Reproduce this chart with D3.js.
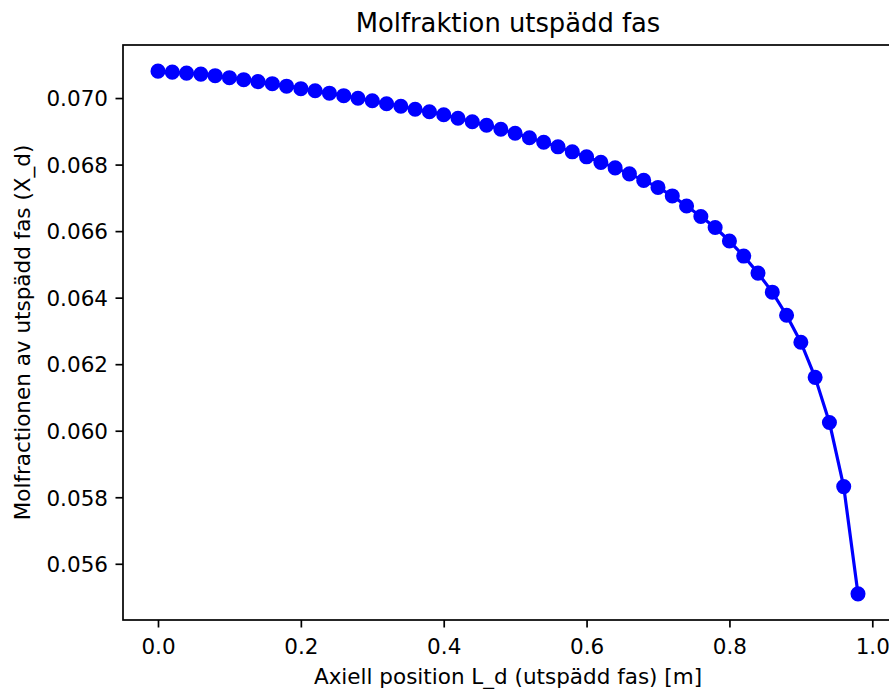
<!DOCTYPE html>
<html>
<head>
<meta charset="utf-8">
<script src="https://cdn.jsdelivr.net/npm/d3@7"></script>
<style>
    body { margin: 0; background: #fff; }
    svg { display: block; font-family: "DejaVu Sans", sans-serif; }
</style>
</head>
<body>
<div id="chart"></div>
<script>
// Axial position along the column (m)
const positions = [
    0.00, 0.02, 0.04, 0.06, 0.08, 0.10, 0.12, 0.14, 0.16, 0.18,
    0.20, 0.22, 0.24, 0.26, 0.28, 0.30, 0.32, 0.34, 0.36, 0.38,
    0.40, 0.42, 0.44, 0.46, 0.48, 0.50, 0.52, 0.54, 0.56, 0.58,
    0.60, 0.62, 0.64, 0.66, 0.68, 0.70, 0.72, 0.74, 0.76, 0.78,
    0.80, 0.82, 0.84, 0.86, 0.88, 0.90, 0.92, 0.94, 0.96, 0.98
];

// Mole fraction in the dilute phase
const moleFraction = [
    0.070809, 0.070779, 0.070749, 0.070719, 0.070673, 0.070613, 0.070553, 0.070493, 0.070432, 0.070357,
    0.070282, 0.070221, 0.070146, 0.070071, 0.069995, 0.069920, 0.069830, 0.069754, 0.069664, 0.069589,
    0.069498, 0.069393, 0.069287, 0.069182, 0.069061, 0.068941, 0.068805, 0.068670, 0.068534, 0.068383,
    0.068233, 0.068067, 0.067901, 0.067721, 0.067525, 0.067314, 0.067058, 0.066756, 0.066440, 0.066109,
    0.065702, 0.065250, 0.064738, 0.064165, 0.063472, 0.062659, 0.061604, 0.060248, 0.058320, 0.055096
];

const xTicks = [0.0, 0.2, 0.4, 0.6, 0.8, 1.0];
const yTicks = [0.056, 0.058, 0.060, 0.062, 0.064, 0.066, 0.068, 0.070];

const title = "Molfraktion utspädd fas";
const xLabel = "Axiell position L_d (utspädd fas) [m]";
const yLabel = "Molfractionen av utspädd fas (X_d)";

let width = 889,
    height = 689;

// axes box (right side runs off the picture like in the original)
let margin = {top: 45, left: 123},
    innerWidth = 770,
    innerHeight = 575;

let data = positions.map((x, i) => ({x: x, y: moleFraction[i]}));

// matplotlib style 5% padding of the data range
function padded(ext) {
    let r = ext[1] - ext[0];
    return [ext[0] - 0.05 * r, ext[1] + 0.05 * r];
}

let xScale = d3.scaleLinear()
    .domain(padded(d3.extent(positions)))
    .range([margin.left, margin.left + innerWidth]);

let yScale = d3.scaleLinear()
    .domain(padded(d3.extent(moleFraction)))
    .range([margin.top + innerHeight, margin.top]);

let svg = d3.select("#chart").append("svg")
    .attr("width", width)
    .attr("height", height);

svg.append("rect")
    .attr("width", width)
    .attr("height", height)
    .attr("fill", "#fff");

// line + markers
let line = d3.line()
    .x(d => xScale(d.x))
    .y(d => yScale(d.y));

svg.append("path")
    .datum(data)
    .attr("d", line)
    .attr("fill", "none")
    .attr("stroke", "#0000ff")
    .attr("stroke-width", 3.2)
    .attr("stroke-linejoin", "round");

svg.append("g")
    .selectAll("circle")
    .data(data)
    .enter().append("circle")
    .attr("cx", d => xScale(d.x))
    .attr("cy", d => yScale(d.y))
    .attr("r", 6.45)
    .attr("fill", "#0000ff")
    .attr("stroke", "#0000ff")
    .attr("stroke-width", 2.15);

// frame
svg.append("rect")
    .attr("x", margin.left)
    .attr("y", margin.top)
    .attr("width", innerWidth)
    .attr("height", innerHeight)
    .attr("fill", "none")
    .attr("stroke", "#000")
    .attr("stroke-width", 1.7);

// axes
let xAxis = d3.axisBottom(xScale)
    .tickValues(xTicks)
    .tickFormat(d3.format(".1f"))
    .tickSize(7.5)
    .tickPadding(7.5);

let yAxis = d3.axisLeft(yScale)
    .tickValues(yTicks)
    .tickFormat(d3.format(".3f"))
    .tickSize(7.5)
    .tickPadding(7.5);

let gx = svg.append("g")
    .attr("transform", `translate(0,${margin.top + innerHeight})`)
    .call(xAxis);

let gy = svg.append("g")
    .attr("transform", `translate(${margin.left},0)`)
    .call(yAxis);

[gx, gy].forEach(g => {
    g.select(".domain").remove();
    g.selectAll(".tick line").attr("stroke", "#000").attr("stroke-width", 1.7);
    g.selectAll(".tick text")
        .attr("fill", "#000")
        .style("font-size", "21.5px")
        .style("font-family", "DejaVu Sans");
});

gx.selectAll(".tick text").attr("dy", "0.88em");
gy.selectAll(".tick text").attr("dy", "0.36em");

// texts
svg.append("text")
    .attr("x", margin.left + innerWidth / 2)
    .attr("y", 32)
    .attr("text-anchor", "middle")
    .style("font-size", "25.8px")
    .text(title);

svg.append("text")
    .attr("x", margin.left + innerWidth / 2)
    .attr("y", 684)
    .attr("text-anchor", "middle")
    .style("font-size", "21.5px")
    .text(xLabel);

svg.append("text")
    .attr("transform", `translate(30,${margin.top + innerHeight / 2}) rotate(-90)`)
    .attr("text-anchor", "middle")
    .style("font-size", "21.5px")
    .text(yLabel);
</script>
</body>
</html>
